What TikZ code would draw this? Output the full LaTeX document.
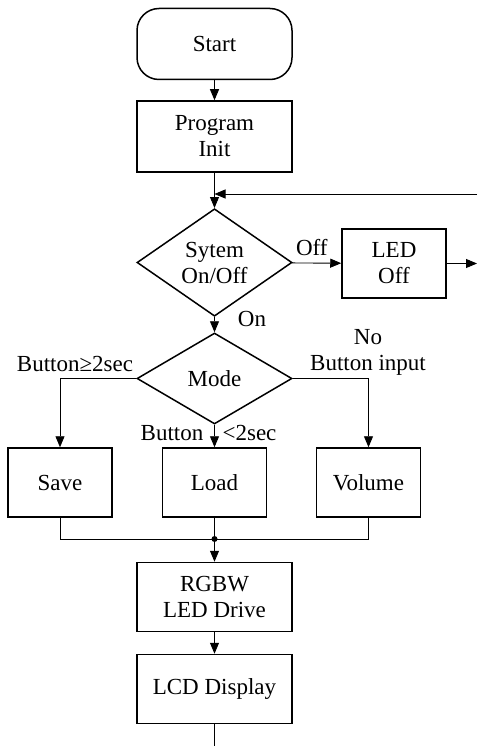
\documentclass[tikz,border=0pt]{standalone}
\usepackage{fontspec}
\setmainfont{Liberation Serif}
\usetikzlibrary{arrows.meta,shapes.geometric}

\begin{document}
\begin{tikzpicture}[x=1pt, y=-1pt,
    font=\fontsize{23}{26}\selectfont,
    block/.style={draw, line width=1.5pt, minimum width=155pt, minimum height=69pt, align=center, inner sep=2pt},
    smallblock/.style={block, minimum width=104pt},
    decision/.style={diamond, draw, line width=1.5pt, minimum width=155pt, minimum height=91pt, align=center, inner sep=0pt},
    flow/.style={line width=0.9pt, -{Triangle[length=11pt, width=9pt]}},
    link/.style={line width=0.9pt}]
    \useasboundingbox (0,0) rectangle (477,746);

    \node[block, rounded corners=22pt, minimum height=71pt] (start) at (214.5, 44) {Start};
    \node[block, minimum height=71pt] (init) at (214.5, 136.5) {Program\\Init};
    \node[decision] (power) at (214.5, 262.5) {Sytem\\On/Off};
    \node[smallblock] (ledoff) at (394, 263.5) {LED\\Off};
    \node[decision] (mode) at (214.5, 378.5) {Mode};
    \node[smallblock] (save) at (60, 482.5) {Save};
    \node[smallblock] (load) at (214.5, 482.5) {Load};
    \node[smallblock] (volume) at (368.5, 482.5) {Volume};
    \node[block] (rgbw) at (214.5, 597) {RGBW\\LED Drive};
    \node[block] (lcd) at (214.5, 689) {LCD Display};

    \coordinate (merge) at (214.5, 194);
    \coordinate (loopin) at (477, 194);
    \coordinate (ledout) at (477, 263.5);
    \coordinate (join) at (214.5, 539);
    \coordinate (lcdout) at (214.5, 746);

    \node (onlbl) at (252, 319) {On};
    \node (longlbl) at (75, 364) {Button≥2sec};
    \node[align=center] (nolbl) at (368, 352) {No\\Button input};
    \node (shortlbl) at (172, 433) {Button};
    \node (sec) at (249.5, 433) {<2sec};

    \draw[flow] (start) -- (init);
    \draw[link] (init) -- (merge);
    \draw[flow] (loopin) -- (merge);
    \draw[flow] (merge) -- (power);
    \draw[flow] (power) -- node[above=4pt, pos=0.4] (offlbl) {Off} (ledoff);
    \draw[flow] (ledoff) -- (ledout);
    \draw[flow] (power) -- (mode);
    \draw[flow] (mode.west) -| (save);
    \draw[flow] (mode.east) -| (volume);
    \draw[flow] (mode) -- (load);
    \draw[link] (save) |- (join);
    \draw[link] (volume) |- (join);
    \draw[link] (load) -- (join);
    \fill (join) circle (3pt);
    \draw[flow] (join) -- (rgbw);
    \draw[flow] (rgbw) -- (lcd);
    \draw[link] (lcd) -- (lcdout);
\end{tikzpicture}
\end{document}
